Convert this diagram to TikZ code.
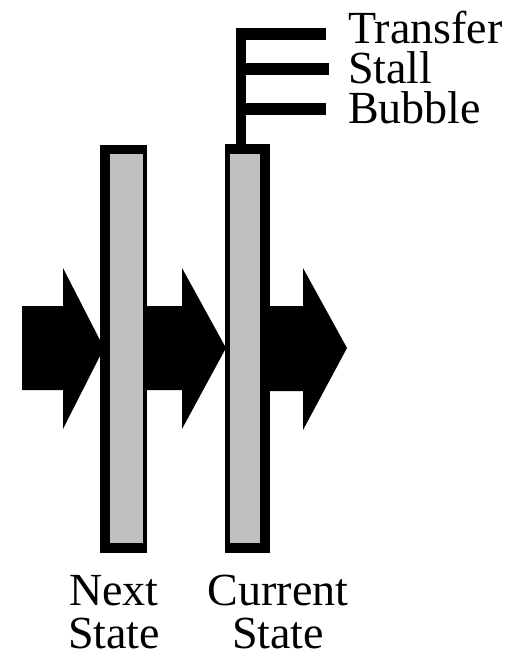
\documentclass[tikz,border=0pt]{standalone}
\usepackage{fontspec}
\setmainfont{Liberation Serif}
\newfontfamily\lblfont{Liberation Serif}
\begin{document}
\begin{tikzpicture}[x=1pt,y=-1pt,
  arrowshape/.style={fill=black,draw=none},
  regouter/.style={fill=black,draw=none},
  reginner/.style={fill=regGray,draw=none},
  lbl/.style={inner sep=0pt,font=\lblfont\fontsize{46}{40}\selectfont}]
\definecolor{regGray}{HTML}{C0C0C0}
\useasboundingbox (0,0) rectangle (523,657);
% arrows
\fill[arrowshape] (22,306) -- (63,306) -- (63,268) -- (104,348) -- (63,429) -- (63,390) -- (22,390) -- cycle;
\fill[arrowshape] (140,306) -- (182,306) -- (182,268) -- (226,348) -- (182,429) -- (182,390) -- (140,390) -- cycle;
\fill[arrowshape] (265,306) -- (303,306) -- (303,268) -- (347,348) -- (303,430) -- (303,391) -- (265,391) -- cycle;
% control stem and bars
\fill[black] (236,28) rectangle (246,146);
\fill[black] (236,28) rectangle (326,40);
\fill[black] (236,63) rectangle (329,75);
\fill[black] (236,103) rectangle (326,115);
% registers
\fill[regouter] (100,145) rectangle (147,553);
\fill[reginner] (110,154) rectangle (143,543);
\fill[regouter] (225,144) rectangle (270,553);
\fill[reginner] (230,154) rectangle (260,543);
% labels
\node[lbl,anchor=base west,align=left] (ctl) at (348,123) {Transfer\\Stall\\Bubble};
\node[lbl,anchor=base,align=center,font=\lblfont\fontsize{46}{43}\selectfont] (nx) at (114,648) {Next\\State};
\node[lbl,anchor=base,align=center,font=\lblfont\fontsize{46}{43}\selectfont] (cu) at (278,648) {Current\\State};
\end{tikzpicture}
\end{document}
